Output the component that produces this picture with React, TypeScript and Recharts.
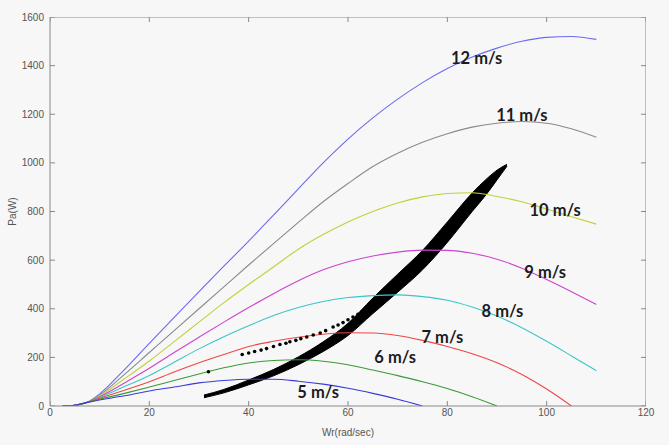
import React from 'react';
import { ComposedChart, Line, Area, Scatter, XAxis, YAxis } from 'recharts';

// rotor speed (rad/s) sample points shared by the power curves
const omega = [2.5, 5, 7.5, 10, 15, 20, 25, 30, 35, 40, 45, 50, 55, 60, 65, 70, 75, 80, 85, 90, 95, 100, 105, 110];

// aerodynamic power (W) for each wind speed
const p5 = [0, 3, 15, 25, 42, 62, 78, 95, 105, 110, 110, 102, 90, 73, 52, 28, 0];
const p6 = [0, 3, 15, 28, 52, 78, 105, 132, 157, 177, 187, 190, 184, 170, 148, 125, 100, 72, 38, 0];
const p7 = [0, 3, 15, 32, 65, 100, 140, 178, 212, 245, 266, 283, 295, 301, 300, 290, 270, 245, 215, 178, 130, 70, 0];
const p8 = [0, 3, 15, 35, 80, 125, 180, 235, 285, 330, 372, 405, 430, 446, 454, 457, 450, 435, 407, 370, 322, 266, 206, 145];
const p9 = [0, 3, 15, 38, 95, 155, 220, 283, 345, 405, 462, 515, 560, 593, 617, 633, 641, 640, 628, 604, 567, 520, 470, 418];
const p10 = [0, 3, 15, 42, 112, 185, 265, 345, 425, 500, 572, 645, 705, 757, 800, 835, 860, 874, 877, 862, 840, 810, 778, 748];
const p11 = [0, 3, 15, 45, 130, 220, 310, 400, 490, 580, 668, 755, 840, 915, 985, 1040, 1085, 1120, 1147, 1163, 1170, 1163, 1140, 1105];
const p12 = [0, 3, 15, 50, 150, 258, 365, 470, 575, 678, 785, 893, 1000, 1098, 1185, 1262, 1330, 1388, 1435, 1472, 1500, 1516, 1520, 1508];

// MPPT operating trajectory (thick black band): lower / upper edge
const mpptOmega = [31, 35, 40, 45, 50, 55, 60, 65, 70, 75, 80, 85, 88, 90, 92];
const mpptLow = [34, 54, 87, 124, 170, 224, 290, 380, 468, 560, 673, 800, 874, 930, 986];
const mpptHigh = [45, 68, 107, 150, 202, 264, 340, 444, 542, 640, 757, 876, 936, 970, 994];

// loose points above the band
const strayOmega = [31.9, 38.7, 40, 41.2, 42.5, 43.6, 45, 46.3, 47.5, 48.3, 49.5, 50.5, 51.7, 53, 54.4, 55.5, 57, 58, 59, 60, 61, 62, 62.8];
const strayPower = [141, 212, 218, 224, 230, 236, 245, 253, 258, 264, 270, 277, 284, 292, 300, 310, 325, 333, 343, 355, 366, 377, 388];

const labelText = ['5 m/s', '6 m/s', '7 m/s', '8 m/s', '9 m/s', '10 m/s', '11 m/s', '12 m/s'];
const labelOmega = [54, 69.5, 79, 91.1, 99.7, 101.7, 95, 85.9];
const labelPower = [56, 203, 285, 392, 552, 806, 1197, 1431];

const xTicks = [0, 20, 40, 60, 80, 100, 120];
const yTicks = [0, 200, 400, 600, 800, 1000, 1200, 1400, 1600];
const xMin = 0;
const xMax = 120;
const yMin = 0;
const yMax = 1600;

const curveData = omega.map((w, i) => ({
    w,
    v5: p5[i],
    v6: p6[i],
    v7: p7[i],
    v8: p8[i],
    v9: p9[i],
    v10: p10[i],
    v11: p11[i],
    v12: p12[i],
}));

const bandData = mpptOmega.map((w, i) => ({ w, band: [mpptLow[i], mpptHigh[i]] }));
const strayData = strayOmega.map((w, i) => ({ w, p: strayPower[i] }));
const labelData = labelText.map((text, i) => ({ w: labelOmega[i], p: labelPower[i], text }));

// matlab box: top + right edges, and tick anchor points on every side
const topEdge = [{ w: xMin, p: yMax }, { w: xMax, p: yMax }];
const rightEdge = [{ w: xMax, p: yMin }, { w: xMax, p: yMax }];
const bottomTicks = xTicks.map((t) => ({ w: t, p: yMin }));
const topTicks = xTicks.map((t) => ({ w: t, p: yMax }));
const leftTicks = yTicks.map((t) => ({ w: xMin, p: t }));
const rightTicks = yTicks.map((t) => ({ w: xMax, p: t }));

const curves = [
    { key: 'v12', color: '#6b6bf2' },
    { key: 'v11', color: '#8a8a8a' },
    { key: 'v10', color: '#c4cf3a' },
    { key: 'v9', color: '#cc44cc' },
    { key: 'v8', color: '#3cc6c6' },
    { key: 'v7', color: '#f04646' },
    { key: 'v6', color: '#3a9a3a' },
    { key: 'v5', color: '#3a3ad8' },
];

const axisColor = '#888';
const font = 'Liberation Sans, Arial, sans-serif';
const tickFont = { fontSize: 10, fill: '#555', fontFamily: font };
const tickLen = 5;

const Dot = (props: any) => <circle cx={props.cx} cy={props.cy} r={1.8} fill="#000" />;

// inward tick mark drawn from an axis point, dx/dy give direction
const tickShape = (dx: number, dy: number) => (props: any) => (
    <line x1={props.cx} y1={props.cy} x2={props.cx + dx * tickLen} y2={props.cy + dy * tickLen} stroke={axisColor} strokeWidth={1} />
);

const CurveLabel = (props: any) => (
    <text
        x={props.cx}
        y={props.cy}
        textAnchor="middle"
        dominantBaseline="central"
        fontFamily="Lato, 'Open Sans', sans-serif"
        fontWeight={700}
        fontSize={16.5}
        fill="#1c1c1c"
    >
        {props.payload.text}
    </text>
);

const App: React.FC = () => {
    return (
        <div style={{ position: 'absolute', left: 0, top: 0, width: 669, height: 445, background: '#f7f7f7' }}>
            <ComposedChart width={669} height={445} margin={{ top: 17, right: 23, left: 0, bottom: 0 }}>
                <XAxis
                    dataKey="w"
                    type="number"
                    domain={[xMin, xMax]}
                    ticks={xTicks}
                    allowDataOverflow
                    stroke={axisColor}
                    tickLine={false}
                    tick={tickFont}
                    tickSize={2}
                    tickMargin={1}
                    height={39}
                    label={{ value: 'Wr(rad/sec)', position: 'insideBottom', offset: 9, fontSize: 10, fill: '#555', fontFamily: font }}
                />
                <YAxis
                    dataKey="p"
                    type="number"
                    domain={[yMin, yMax]}
                    ticks={yTicks}
                    allowDataOverflow
                    stroke={axisColor}
                    tickLine={false}
                    tick={tickFont}
                    tickSize={4}
                    tickMargin={2}
                    width={50}
                    label={{ value: 'Pa(W)', angle: -90, position: 'insideLeft', offset: 12, fontSize: 10, fill: '#555', fontFamily: font, style: { textAnchor: 'middle' } }}
                />

                <Line data={topEdge} dataKey="p" type="linear" stroke={axisColor} strokeWidth={1} dot={false} isAnimationActive={false} />
                <Line data={rightEdge} dataKey="p" type="linear" stroke={axisColor} strokeWidth={1} dot={false} isAnimationActive={false} />
                <Scatter data={bottomTicks} dataKey="p" shape={tickShape(0, -1)} isAnimationActive={false} />
                <Scatter data={topTicks} dataKey="p" shape={tickShape(0, 1)} isAnimationActive={false} />
                <Scatter data={leftTicks} dataKey="p" shape={tickShape(1, 0)} isAnimationActive={false} />
                <Scatter data={rightTicks} dataKey="p" shape={tickShape(-1, 0)} isAnimationActive={false} />

                {curves.map((c) => (
                    <Line
                        key={c.key}
                        data={curveData}
                        dataKey={c.key}
                        type="monotone"
                        stroke={c.color}
                        strokeWidth={1.1}
                        dot={false}
                        isAnimationActive={false}
                    />
                ))}

                <Area
                    data={bandData}
                    dataKey="band"
                    type="monotone"
                    stroke="#000"
                    strokeWidth={1}
                    fill="#000"
                    fillOpacity={1}
                    isAnimationActive={false}
                />
                <Scatter data={strayData} dataKey="p" shape={Dot} isAnimationActive={false} />
                <Scatter data={labelData} dataKey="p" shape={CurveLabel} isAnimationActive={false} />
            </ComposedChart>
        </div>
    );
};

export default App;
